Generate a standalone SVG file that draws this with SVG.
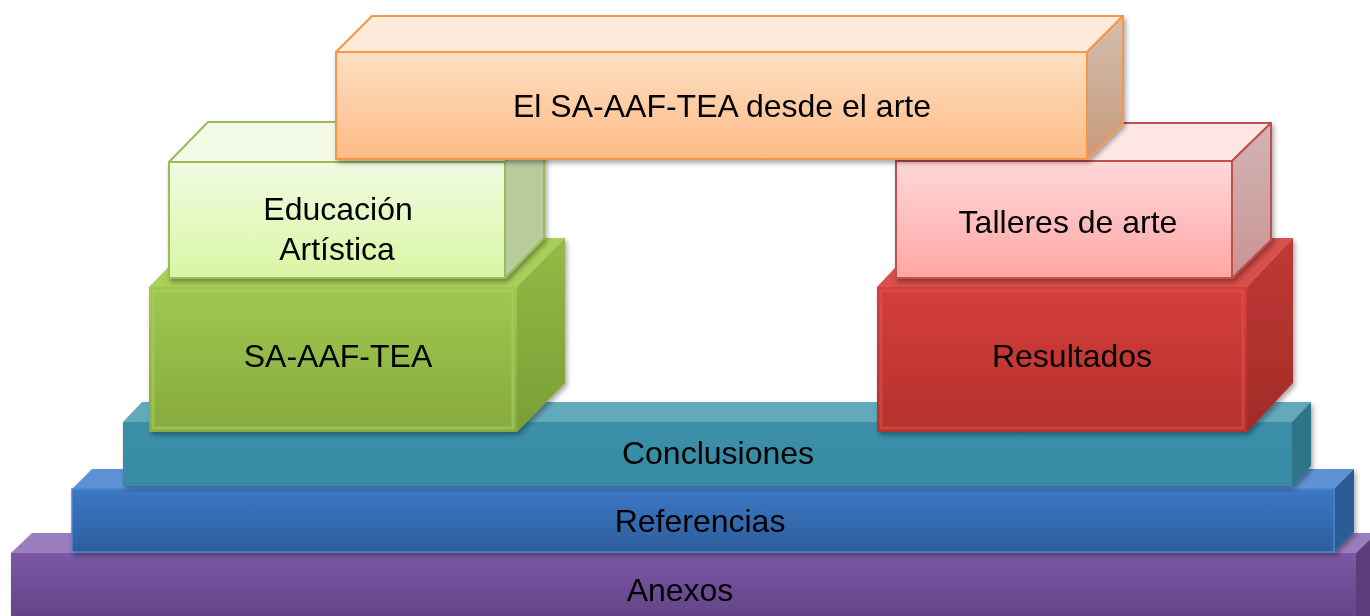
<svg xmlns="http://www.w3.org/2000/svg" width="1370" height="616" viewBox="0 0 1370 616">
<defs>
<linearGradient id="gPurple" x1="0" y1="0" x2="0" y2="1"><stop offset="0" stop-color="#7b58a6"/><stop offset="1" stop-color="#5f4080"/></linearGradient>
<linearGradient id="gBlue" x1="0" y1="0" x2="0" y2="1"><stop offset="0" stop-color="#3b78c4"/><stop offset="1" stop-color="#2e5e9c"/></linearGradient>
<linearGradient id="gTeal" x1="0" y1="0" x2="0" y2="1"><stop offset="0" stop-color="#3b90a9"/><stop offset="1" stop-color="#378aa3"/></linearGradient>
<linearGradient id="gGreen" x1="0" y1="0" x2="0" y2="1"><stop offset="0" stop-color="#a0c850"/><stop offset="1" stop-color="#86aa3e"/></linearGradient>
<linearGradient id="gGreenSide" x1="0" y1="0" x2="0" y2="1"><stop offset="0" stop-color="#93bb45"/><stop offset="1" stop-color="#7a9e36"/></linearGradient>
<linearGradient id="gRed" x1="0" y1="0" x2="0" y2="1"><stop offset="0" stop-color="#d43f3b"/><stop offset="1" stop-color="#b5302d"/></linearGradient>
<linearGradient id="gRedSide" x1="0" y1="0" x2="0" y2="1"><stop offset="0" stop-color="#c03936"/><stop offset="1" stop-color="#a22b28"/></linearGradient>
<linearGradient id="gLight" x1="0" y1="0" x2="0" y2="1"><stop offset="0" stop-color="#f1fbe2"/><stop offset="1" stop-color="#d9f6a4"/></linearGradient>
<linearGradient id="gPink" x1="0" y1="0" x2="0" y2="1"><stop offset="0" stop-color="#ffd8d8"/><stop offset="1" stop-color="#ffa5a5"/></linearGradient>
<linearGradient id="gOrange" x1="0" y1="0" x2="0" y2="1"><stop offset="0" stop-color="#fedfc4"/><stop offset="1" stop-color="#fdbb85"/></linearGradient>
<linearGradient id="gOrangeSide" x1="0" y1="0" x2="0" y2="1"><stop offset="0" stop-color="#d3bfb0"/><stop offset="1" stop-color="#c6997a"/></linearGradient>
<linearGradient id="gPinkSide" x1="0" y1="0" x2="0" y2="1"><stop offset="0" stop-color="#d2b4b4"/><stop offset="1" stop-color="#c99494"/></linearGradient>
<filter id="sh" x="-5%" y="-10%" width="110%" height="130%"><feDropShadow dx="2" dy="3" stdDeviation="2.5" flood-color="#000" flood-opacity="0.35"/></filter>
</defs>
<style>
text{font-family:"Liberation Sans",Arial,sans-serif;font-size:32px;fill:#000;text-anchor:middle}
</style>
<g id="anexos" filter="url(#sh)">
<polygon points="11,553 32,533 1377,533 1356,553" fill="#9a7dbd"/>
<polygon points="1356,553 1377,533 1377,630 1356,630" fill="#5b3c7a"/>
<rect x="11" y="553" width="1345" height="77" fill="url(#gPurple)"/>
<text x="680" y="601">Anexos</text>
</g>
<g id="referencias" filter="url(#sh)">
<polygon points="72,489 92,469 1354,469 1334,489" fill="#5e92d5"/>
<polygon points="1334,489 1354,469 1354,532 1334,552" fill="#2c5c98"/>
<rect x="72" y="489" width="1262" height="63" fill="url(#gBlue)" stroke="#4a88d0" stroke-width="1.5"/>
<text x="700" y="532">Referencias</text>
</g>
<g id="conclusiones" filter="url(#sh)">
<polygon points="123,422 142,402 1311,402 1292,422" fill="#62a9bc"/>
<polygon points="1292,422 1311,402 1311,466 1292,486" fill="#2e7588"/>
<rect x="123" y="422" width="1169" height="64" fill="url(#gTeal)"/>
<text x="718" y="464">Conclusiones</text>
</g>
<g id="sa-aaf-tea" filter="url(#sh)">
<polygon points="149,287 197,238 565,238 517,287" fill="#a9d05a"/>
<polygon points="517,287 565,238 565,383 517,432" fill="url(#gGreenSide)"/>
<rect x="149" y="287" width="368" height="145" fill="url(#gGreen)"/>
<rect x="153" y="291" width="360" height="137" fill="none" stroke="#a9cf5e" stroke-width="3" opacity="0.6"/>
<text x="338" y="367">SA-AAF-TEA</text>
</g>
<g id="resultados" filter="url(#sh)">
<polygon points="877,287 923,238 1293,238 1247,287" fill="#d9504c"/>
<polygon points="1247,287 1293,238 1293,383 1247,432" fill="url(#gRedSide)"/>
<rect x="877" y="287" width="370" height="145" fill="url(#gRed)"/>
<rect x="881" y="291" width="362" height="137" fill="none" stroke="#dc5a56" stroke-width="3" opacity="0.5"/>
<text x="1072" y="367">Resultados</text>
</g>
<g id="educacion" filter="url(#sh)" stroke="#9bbb59" stroke-width="2" stroke-linejoin="round">
<polygon points="169,162 208,122 544,122 505,162" fill="#f3fbe6"/>
<polygon points="505,162 544,122 544,238 505,278" fill="#b8cb9c"/>
<rect x="169" y="162" width="336" height="116" fill="url(#gLight)"/>
<text x="338" y="220" stroke="none">Educación</text>
<text x="337" y="260" stroke="none">Artística</text>
</g>
<g id="talleres" filter="url(#sh)" stroke="#c0504d" stroke-width="2" stroke-linejoin="round">
<polygon points="896,161 935,123 1271,123 1232,161" fill="#ffe6e6"/>
<polygon points="1232,161 1271,123 1271,240 1232,278" fill="url(#gPinkSide)"/>
<rect x="896" y="161" width="336" height="117" fill="url(#gPink)"/>
<text x="1068" y="233" stroke="none">Talleres de arte</text>
</g>
<g id="arte" filter="url(#sh)" stroke="#f79646" stroke-width="2" stroke-linejoin="round">
<polygon points="336,52 372,16 1123,16 1087,52" fill="#feebdc"/>
<polygon points="1087,52 1123,16 1123,123 1087,159" fill="url(#gOrangeSide)"/>
<rect x="336" y="52" width="751" height="107" fill="url(#gOrange)"/>
<text x="722" y="117" stroke="none">El SA-AAF-TEA desde el arte</text>
</g>
<g id="connectors"/>
</svg>
